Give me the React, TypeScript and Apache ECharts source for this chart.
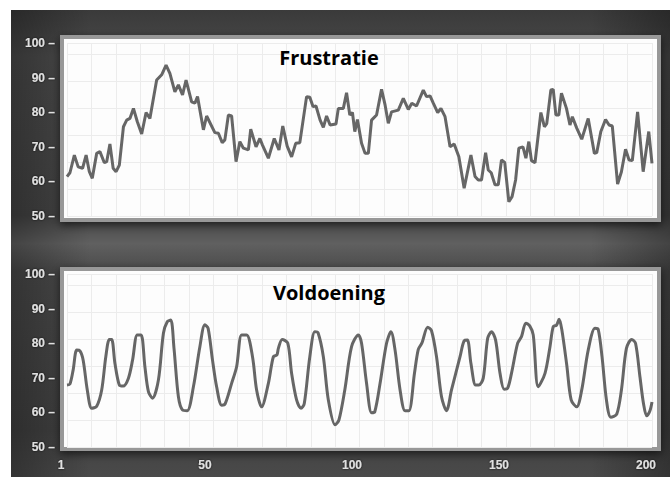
import React, { useEffect, useRef } from "react";
import * as echarts from "echarts";

const xTicks = [1, 50, 100, 150, 200];
const yTicks = [50, 60, 70, 80, 90, 100];

const frustratieX = [
  1, 2, 3.5, 4.8, 6.3, 7.5, 8.6, 9.6, 11.1, 12.2, 13.7, 14.5, 15.6, 16.7, 17.7, 18.8, 20.2, 21.3, 22.4, 23.6,
  24.9, 26.4, 27.9, 29.2, 31.5, 33.2, 34.7, 36, 37.7, 38.9, 40.3, 41.5, 43.4, 44.5, 45.4, 47.4, 48.5, 51.3,
  52.5, 53.8, 54.7, 55.9, 57, 58.5, 59.8, 61, 62.7, 63.5, 65.3, 66.6, 67.5, 69.5, 71.5, 73.1, 74.4, 75.9, 77.4,
  78.8, 80.2, 82.5, 83.6, 84.7, 85.7, 87.1, 88.2, 89.3, 90.5, 92.5, 93.3, 95, 96.1, 97.2, 98.1, 98.9, 99.8,
  101.2, 102.4, 103.5, 104.6, 106.3, 108, 109.2, 110.3, 111.4, 113.7, 115.4, 117.1, 118.3, 119.9, 122.2, 123.3,
  124.5, 125.6, 127.1, 128.2, 129.6, 131.3, 132.7, 134.3, 136.1, 138.4, 139.8, 140.9, 142, 143.4, 144.3, 145.3,
  146.6, 147.7, 148.8, 149.9, 151.3, 152.4, 153.6, 154.7, 156.1, 157.1, 158.1, 159, 160.2, 162.2, 163.4, 164.2,
  165.6, 166.4, 167.3, 168.3, 169.2, 170.9, 172.1, 172.9, 174.4, 176.1, 178.3, 180.4, 181.2, 182.6, 184.2,
  185.4, 186.5, 188.3, 189.6, 191, 192.2, 193.3, 195.1, 197, 198.9, 200,
];
const frustratieY = [
  61.4, 62.5, 67.6, 64.2, 63.8, 67.6, 62.8, 60.9, 68.1, 68.6, 65.4, 65.7, 70.8, 63.8, 62.8, 64.7, 75.8, 77.7, 78.2, 81.1,
  77.3, 73.7, 79.9, 78.2, 89.3, 90.8, 93.6, 91.2, 85.9, 87.9, 85, 89.3, 83, 82.6, 84.5, 74.9, 78.9, 74.1,
  73.9, 71.2, 72, 79.2, 78.9, 65.7, 71.5, 69.6, 69.1, 75.1, 70, 72.4, 70.5, 66.7, 72.4, 69.1, 76, 70.2, 67.1,
  71, 71.2, 84.5, 84.3, 81.6, 81.8, 77.7, 75.6, 78.9, 76.3, 76.6, 81.1, 81.1, 85.6, 79.2, 79.9, 74.4, 77.9,
  71, 68.1, 68.1, 77.7, 79.2, 86.6, 82.1, 76.8, 80.1, 80.6, 84, 80.8, 82.6, 81.8, 86.4, 84.5,
  84.7, 82.6, 79.9, 81.1, 78.7, 70, 70.8, 67.1, 58, 67.6, 61.4, 60.4, 60.4, 68.3, 63.3, 62.5,
  59, 59, 66.2, 65.5, 54.1, 55.6, 60.4, 69.6, 70, 66.7, 71.5, 66, 65.4, 79.9, 75.8, 76.7,
  86.4, 86.6, 79.2, 79.2, 85.5, 81.1, 76.3, 78.7, 75.4, 72.2, 78.2, 68.1, 68.3, 74.4, 77.9,
  76.3, 76, 59.2, 62.8, 69.3, 66.2, 66, 80.1, 62.8, 74.4, 65.2,
];

const voldoeningX = [
  1, 2, 3.1, 4.3, 5.4, 6.5, 7.9, 9.4, 11.1, 12.8, 14.2, 15.4, 16.2, 17.3, 18.8, 20.1, 21.9, 23.3, 24.9, 26.2,
  27.5, 28.7, 30.1, 32.1, 33.8, 35.1, 36.3, 37.4, 38.9, 40.3, 41.9, 44, 46.2, 47.9, 49, 50.5, 51.9, 53.6, 54.8,
  57, 58.7, 60.4, 62.1, 64.1, 65.5, 67.2, 69.5, 71.2, 72.4, 72.9, 74.2, 76.1, 77.4, 79.1, 80.6, 81.7, 83.6,
  85.3, 86.4, 88.2, 89.9, 92.2, 93.5, 95.5, 97.8, 100.1, 101.2, 102.9, 104.6, 105.7, 107.5, 109.7, 111.2,
  112.6, 114.3, 116, 117.3, 119.2, 120.5, 121.7, 123.7, 125, 126.7, 128.4, 130.1, 131.8, 134.7, 136.1, 137.2,
  138.4, 140, 141.1, 142.6, 144.1, 145.4, 146.8, 148.3, 149.7, 150.9, 152.2, 154.3, 155.6, 157.1, 158.4, 159.6,
  161.3, 163.6, 165.3, 166.4, 167.5, 168.4, 169.3, 171, 172.5, 174.4, 176.1, 178.3, 180.6, 181.7, 183, 184.5,
  186, 188, 189.6, 191.3, 193.1, 194.4, 195.9, 197.1, 198.2, 199.3, 200,
];
const voldoeningY = [
  67.9, 68.2, 72.3, 78, 77.8, 75.1, 66.5, 61.2, 61.8, 66.5, 76.1, 81.1, 81.1, 74.2, 67.9, 67.6, 69.9, 75.1, 82.4, 82.4,
  73.2, 66, 64.1, 69.4, 82.9, 86.2, 86.7, 78.5, 64.5, 60.7, 60.5, 67.4, 79, 85.3, 84.3, 75.1, 67.4, 62.1, 62.5,
  68.4, 73.2, 82.4, 82.4, 76.1, 66.5, 61.6, 68.4, 76.1, 76.6, 78.5, 81.1, 80, 71.3, 63.6, 61.2, 62.5, 76.1,
  83.3, 83, 76.1, 63.6, 56.4, 57.8, 66.5, 79, 82.4, 80, 68.4, 59.9, 60.2, 68.4, 80, 83.3,
  78, 66.5, 60.5, 60.5, 71.3, 78.2, 80, 84.6, 83.6, 76.1, 64.5, 60.5, 66.5, 76.1, 80.7, 80.9,
  74.2, 67.9, 67.9, 69.9, 81.4, 83.3, 80.9, 71.3, 66.7, 67, 71.3, 80, 81.9, 85.8, 85, 82.4,
  67.4, 71.3, 79, 84.8, 85.2, 86.9, 84, 73.7, 63.6, 61.6, 66.5, 78, 84.3, 84, 76.1, 63.6,
  58.6, 59.5, 66.5, 78.5, 81.1, 80, 70.3, 62.6, 59, 60.5, 63,
];

const zip = (xs: number[], ys: number[]) => xs.map((x, i) => [x, ys[i]]);

const labelStyle = {
  color: "#e0e0e0",
  fontWeight: "bold" as const,
  fontSize: 12,
  fontFamily: "Liberation Sans, Arial, sans-serif",
  textShadowColor: "rgba(0,0,0,0.8)",
  textShadowBlur: 2,
};

export default function App() {
  const ref = useRef<HTMLDivElement>(null);
  useEffect(() => {
    if (!ref.current) return;
    const chart = echarts.init(ref.current, undefined, { renderer: "svg" });
    const mainY = (gi: number) => ({
      gridIndex: gi,
      type: "value",
      min: yTicks[0],
      max: yTicks[yTicks.length - 1],
      interval: 10,
      axisLine: { show: false },
      axisTick: { show: false },
      splitLine: { show: false },
      axisLabel: { ...labelStyle, margin: 12, formatter: (v: number) => `${v} –` },
    });
    const decoX = (gi: number) => ({
      gridIndex: gi,
      type: "value",
      min: 0,
      max: 24,
      interval: 1,
      axisLine: { show: false },
      axisTick: { show: false },
      axisLabel: { show: false },
      splitLine: { show: true, lineStyle: { color: "#ececec", width: 1 } },
    });
    const decoY = (gi: number) => ({
      gridIndex: gi,
      type: "value",
      min: 0,
      max: 6.4,
      interval: 1,
      axisLine: { show: false },
      axisTick: { show: false },
      axisLabel: { show: false },
      splitLine: { show: true, lineStyle: { color: "#ececec", width: 1 } },
    });
    const frame = (y: number, h: number) => ({
      type: "rect",
      z: -10,
      shape: { x: 62, y, width: 597, height: h },
      style: {
        fill: "#fdfdfd",
        stroke: "#989898",
        lineWidth: 4,
        shadowBlur: 8,
        shadowColor: "rgba(0,0,0,0.6)",
        shadowOffsetY: 3,
      },
    });
    const option = {
      animation: false,
      graphic: [
        {
          type: "rect",
          z: -30,
          shape: { x: 11, y: 10, width: 659, height: 467 },
          style: {
            fill: new echarts.graphic.LinearGradient(0, 0, 0, 1, [
              { offset: 0, color: "#3a3a3a" },
              { offset: 0.1, color: "#4a4a4a" },
              { offset: 0.44, color: "#444444" },
              { offset: 0.5, color: "#606060" },
              { offset: 0.56, color: "#4a4a4a" },
              { offset: 0.9, color: "#414141" },
              { offset: 1, color: "#4a4a4a" },
            ]),
          },
        },
        {
          type: "rect",
          z: -29,
          shape: { x: 11, y: 10, width: 659, height: 467 },
          style: {
            fill: new echarts.graphic.LinearGradient(0, 0, 1, 0, [
              { offset: 0, color: "rgba(0,0,0,0.3)" },
              { offset: 0.12, color: "rgba(0,0,0,0)" },
              { offset: 0.88, color: "rgba(0,0,0,0)" },
              { offset: 1, color: "rgba(0,0,0,0.3)" },
            ]),
          },
        },
        frame(37, 183),
        frame(269, 180),
        {
          type: "text",
          z: 10,
          x: 329,
          y: 57,
          style: {
            text: "Frustratie",
            fill: "#000",
            fontSize: 20,
            fontWeight: "bold",
            fontFamily: "Open Sans, Noto Sans, sans-serif",
            align: "center",
            verticalAlign: "middle",
          },
        },
        {
          type: "text",
          z: 10,
          x: 329,
          y: 292,
          style: {
            text: "Voldoening",
            fill: "#000",
            fontSize: 20,
            fontWeight: "bold",
            fontFamily: "Open Sans, Noto Sans, sans-serif",
            align: "center",
            verticalAlign: "middle",
          },
        },
      ],
      grid: [
        { left: 67, top: 43, width: 585, height: 173 },
        { left: 67, top: 274, width: 585, height: 173 },
      ],
      xAxis: [
        { gridIndex: 0, type: "value", min: 1, max: 200, show: false },
        {
          gridIndex: 1,
          type: "value",
          min: 1,
          max: 200,
          axisLine: { show: false },
          axisTick: { show: false },
          splitLine: { show: false },
          axisLabel: { ...labelStyle, margin: 12, padding: [0, 12, 0, 0], customValues: xTicks },
        },
        decoX(0),
        decoX(1),
      ],
      yAxis: [mainY(0), mainY(1), decoY(0), decoY(1)],
      series: [
        {
          type: "line",
          xAxisIndex: 0,
          yAxisIndex: 0,
          data: zip(frustratieX, frustratieY),
          showSymbol: false,
          lineStyle: { color: "#666666", width: 3 },
          z: 5,
        },
        {
          type: "line",
          xAxisIndex: 1,
          yAxisIndex: 1,
          data: zip(voldoeningX, voldoeningY),
          showSymbol: false,
          smooth: 0.3,
          lineStyle: { color: "#666666", width: 3 },
          z: 5,
        },
      ],
    };
    chart.setOption(option as any);
    return () => chart.dispose();
  }, []);
  return (
    <div
      ref={ref}
      style={{ position: "absolute", left: 0, top: 0, width: 670, height: 477, background: "#fff" }}
    />
  );
}
